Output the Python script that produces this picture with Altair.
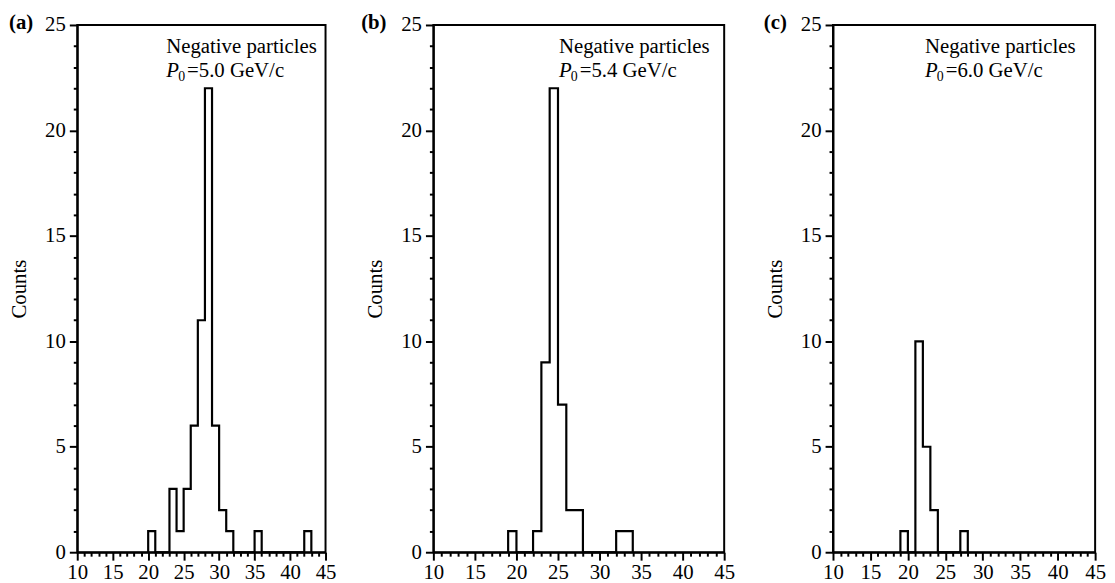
import altair as alt
import pandas as pd

# ---- data ----
a_bins = [20, 23, 24, 25, 26, 27, 28, 29, 30, 31, 35, 42]
a_counts = [1, 3, 1, 3, 6, 11, 22, 6, 2, 1, 1, 1]

b_bins = [19, 22, 23, 24, 25, 26, 27, 32, 33]
b_counts = [1, 1, 9, 22, 7, 2, 2, 1, 1]

c_bins = [19, 21, 22, 23, 27]
c_counts = [1, 10, 5, 2, 1]

panel_labels = ["(a)", "(b)", "(c)"]
p0_texts = ["=5.0 GeV/c", "=5.4 GeV/c", "=6.0 GeV/c"]
title_line = "Negative particles"
y_title = "Counts"
x_ticks = list(range(10, 46))
y_ticks = list(range(0, 26))

FONT = "Liberation Serif"
FS = 21


def step_table(bins, counts):
    lookup = dict(zip(bins, counts))
    lo, hi = min(bins), max(bins) + 1
    rows = [{"edge": lo, "count": 0}]
    for e in range(lo, hi + 1):
        rows.append({"edge": e, "count": lookup.get(e, 0)})
    return pd.DataFrame(rows)


def panel(label, bins, counts, p0, width, label_dx, text_dx):
    height = 533
    xs = alt.Scale(domain=[10, 45], nice=False, zero=False)
    ys = alt.Scale(domain=[0, 25], nice=False)
    tick_cond = {"condition": {"test": "datum.value % 5 === 0", "value": 8}, "value": 4}
    xaxis = alt.Axis(
        values=x_ticks,
        labelExpr="datum.value % 5 === 0 ? datum.label : ''",
        title=None, grid=False, tickSize=tick_cond, tickWidth=2,
        tickColor="black", domainColor="black", domainWidth=2,
        labelFont=FONT, labelFontSize=FS, labelColor="black", labelPadding=2,
        labelFlush=False, labelOverlap=False,
    )
    yaxis = alt.Axis(
        values=y_ticks,
        labelExpr="datum.value % 5 === 0 ? datum.label : ''",
        title=y_title, grid=False, tickSize=tick_cond, tickWidth=2,
        tickColor="black", domainColor="black", domainWidth=2,
        labelFont=FONT, labelFontSize=FS, labelColor="black", labelPadding=4,
        labelFlush=False, labelOverlap=False,
        titleFont=FONT, titleFontSize=FS, titleFontWeight="normal",
        titleColor="black", titlePadding=15,
    )
    hist = alt.Chart(step_table(bins, counts)).mark_line(
        interpolate="step-after", color="black", strokeWidth=2.2
    ).encode(
        x=alt.X("edge:Q", scale=xs, axis=xaxis),
        y=alt.Y("count:Q", scale=ys, axis=yaxis),
        order=alt.Order("idx:Q"),
    ).transform_window(idx="row_number()")

    def txt(s, dx, dy, size=FS, style="normal", weight="normal"):
        return alt.Chart(pd.DataFrame({"t": [s]})).mark_text(
            font=FONT, fontSize=size, fontStyle=style, fontWeight=weight,
            align="left", baseline="alphabetic", color="black",
        ).encode(x=alt.value(dx), y=alt.value(dy), text="t:N")

    layers = [
        hist,
        txt(label, label_dx, 4, weight="bold"),
        txt(title_line, text_dx, 28),
        txt("P", text_dx, 53, style="italic"),
        txt("0", text_dx + 12, 57, size=14),
        txt(p0, text_dx + 21, 53),
    ]
    return alt.layer(*layers).properties(width=width, height=height)


pa = panel(panel_labels[0], a_bins, a_counts, p0_texts[0], 251, -69, 90)
pb = panel(panel_labels[1], b_bins, b_counts, p0_texts[1], 294, -73, 127)
pc = panel(panel_labels[2], c_bins, c_counts, p0_texts[2], 265, -70, 93)

chart = alt.hconcat(pa, alt.hconcat(pb, pc, spacing=27), spacing=23).properties(
    padding={"left": 0, "top": 0, "right": 0, "bottom": 0}
).configure(background="white").configure_view(stroke="black", strokeWidth=2)

chart.save("out.html", embed_options={"renderer": "svg", "actions": False})
